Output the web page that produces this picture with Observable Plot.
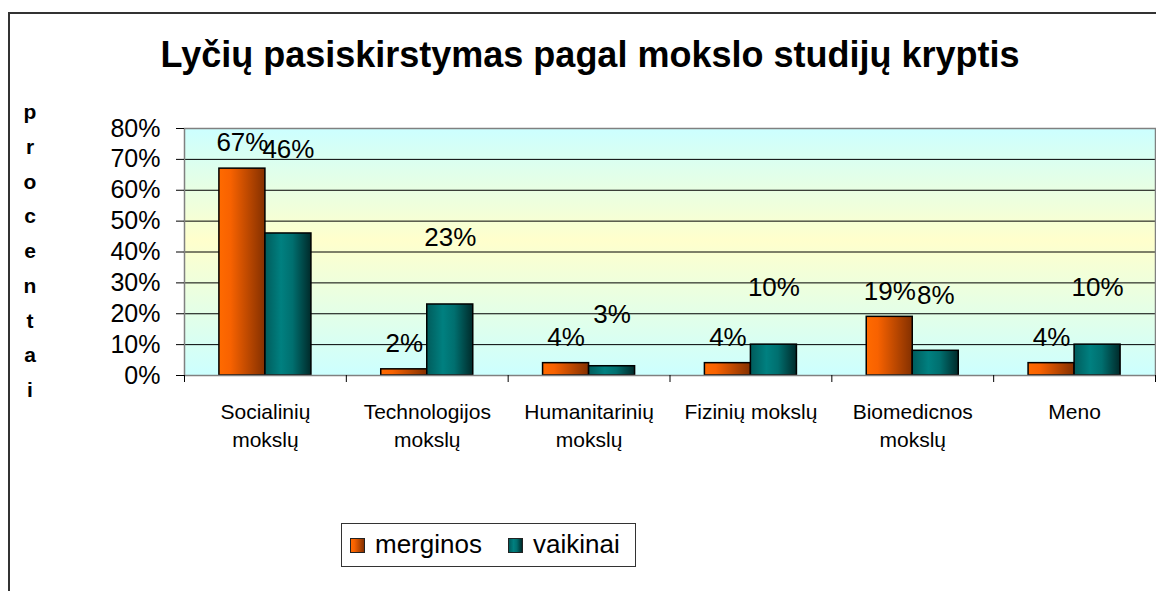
<!DOCTYPE html>
<html><head><meta charset="utf-8">
<script src="https://cdn.jsdelivr.net/npm/d3@7"></script>
<script src="https://cdn.jsdelivr.net/npm/@observablehq/plot@0.6"></script>
<style>
html,body{margin:0;padding:0;width:1156px;height:591px;overflow:hidden;background:#fff;font-family:"Liberation Sans",Arial,sans-serif;}
#frame{position:absolute;left:8px;top:12px;width:1200px;height:700px;border-left:2px solid #333;border-top:2px solid #333;}
#title{position:absolute;left:0;width:1180px;top:37px;text-align:center;font-size:36px;font-weight:bold;line-height:1;color:#000;white-space:nowrap;}
#ylab{position:absolute;left:19px;width:22px;top:95px;text-align:center;font-size:21px;font-weight:bold;line-height:34.75px;color:#000;}
#chart{position:absolute;left:0;top:100px;}
#legend{position:absolute;left:341px;top:523px;width:293px;height:42px;border:1px solid #333;background:#fff;}
.sw{position:absolute;top:14px;width:13px;height:13px;border:1px solid #222;}
.lt{position:absolute;top:7px;font-size:26px;line-height:1;color:#000;}
</style></head>
<body>
<div id="frame"></div>
<div id="title">Lyčių pasiskirstymas pagal mokslo studijų kryptis</div>
<div id="ylab"></div>
<div id="chart"></div>
<div id="legend"></div>
<script>
const categories = ["Socialinių\nmokslų", "Technologijos\nmokslų", "Humanitarinių\nmokslų", "Fizinių mokslų", "Biomedicnos\nmokslų", "Meno"];
const series = ["merginos", "vaikinai"];
const merginos = [0.67, 0.02, 0.04, 0.04, 0.19, 0.04];
const vaikinai = [0.46, 0.23, 0.03, 0.10, 0.08, 0.10];
const yTicks = [0, 0.1, 0.2, 0.3, 0.4, 0.5, 0.6, 0.7, 0.8];
const yLabelText = "procentai";
const seriesColors = {
  merginos: [["0", "#ff6a00"], ["0.25", "#f86200"], ["1", "#843000"]],
  vaikinai: [["0", "#005c5c"], ["0.35", "#008080"], ["0.6", "#006f6f"], ["1", "#002a2a"]]
};

// rows for the marks
const groupPad = 0.2157, barW = 0.2843;
const rows = [];
categories.forEach((c, i) => {
  [merginos, vaikinai].forEach((vals, s) => {
    const x1 = i + groupPad + s * barW;
    rows.push({cat: c, i, s, series: series[s], value: vals[i], x1, x2: x1 + barW, xm: x1 + barW / 2});
  });
});
// label placement (as in the original, labels float above the bars)
const labelY = d => d.s === 0 ? d.value + 0.083 : d.value * 1.24 + 0.16;
const pct = d3.format(".0%");

const svg = Plot.plot({
  width: 1156,
  height: 360,
  marginTop: 28,
  marginBottom: 85,
  marginLeft: 184,
  marginRight: 1,
  style: {background: "transparent", overflow: "visible", fontFamily: "Liberation Sans, Arial, sans-serif", fontSize: "20px", color: "#000"},
  x: {domain: [0, categories.length], axis: null},
  y: {domain: [0, 0.8], axis: null, label: null},
  marks: [
    Plot.frame({fill: "url(#bgGrad)"}),
    Plot.ruleY(yTicks.filter(t => t > 0 && t < 0.8), {stroke: "#000", strokeWidth: 1}),
    Plot.rect(rows.filter(d => d.s === 0), {x1: "x1", x2: "x2", y1: 0, y2: "value", fill: "url(#g_merginos)", stroke: "#000", strokeWidth: 1.5}),
    Plot.rect(rows.filter(d => d.s === 1), {x1: "x1", x2: "x2", y1: 0, y2: "value", fill: "url(#g_vaikinai)", stroke: "#000", strokeWidth: 1.5}),
    Plot.frame({stroke: "#808080", strokeWidth: 1.5}),
    Plot.axisY({ticks: yTicks, tickFormat: pct, tickSize: 8, tickPadding: 16, fontSize: 25, label: null}),
    Plot.axisX({ticks: d3.range(categories.length + 1), tickSize: 7, tickFormat: () => "", label: null}),
    Plot.text(categories, {x: (d, i) => i + 0.5, y: 0, dy: 24, lineAnchor: "top", lineHeight: 1.33, fontSize: 21, fill: "#000"}),
    Plot.text(rows, {x: "xm", y: labelY, text: d => pct(d.value), fontSize: 26, fill: "#000"})
  ]
});

// gradients
const defs = d3.select(svg).insert("defs", ":first-child");
const bg = defs.append("linearGradient").attr("id", "bgGrad").attr("x1", 0).attr("y1", 0).attr("x2", 0).attr("y2", 1);
[["0", "#ccffff"], ["0.45", "#ffffcc"], ["1", "#ccffff"]].forEach(([o, c]) => bg.append("stop").attr("offset", o).attr("stop-color", c));
series.forEach(s => {
  const g = defs.append("linearGradient").attr("id", "g_" + s).attr("x1", 0).attr("y1", 0).attr("x2", 1).attr("y2", 0);
  seriesColors[s].forEach(([o, c]) => g.append("stop").attr("offset", o).attr("stop-color", c));
});
document.getElementById("chart").appendChild(svg);

// vertical axis title
document.getElementById("ylab").innerHTML = yLabelText.split("").map(ch => `<div>${ch}</div>`).join("");

// legend
const leg = document.getElementById("legend");
const legX = [[8, 33], [166, 191]];
series.forEach((s, k) => {
  const stops = seriesColors[s].map(([o, c]) => `${c} ${o * 100}%`).join(",");
  leg.insertAdjacentHTML("beforeend",
    `<div class="sw" style="left:${legX[k][0]}px;background:linear-gradient(to right,${stops})"></div>` +
    `<div class="lt" style="left:${legX[k][1]}px">${s}</div>`);
});
</script>
</body></html>
